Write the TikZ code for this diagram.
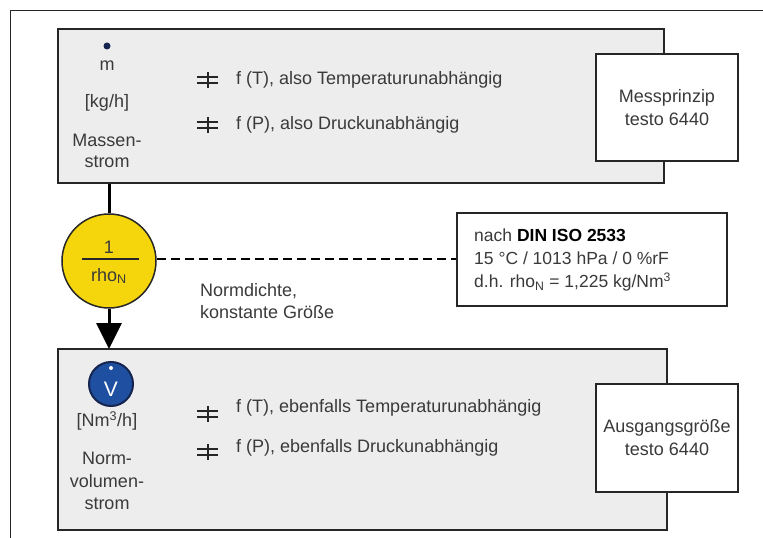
\documentclass[tikz,border=0pt]{standalone}
\usepackage{fontspec}
\setmainfont{Liberation Sans}
\usetikzlibrary{arrows.meta}
\definecolor{txt}{HTML}{3A3A3A}
\definecolor{boxgray}{HTML}{EDEDED}
\definecolor{yel}{HTML}{F5D60C}
\definecolor{vblue}{HTML}{1F4FA0}
\definecolor{navy}{HTML}{15254F}
\begin{document}
\begin{tikzpicture}[x=1bp,y=-1bp,
  lbl/.style={font=\fontsize{18bp}{22bp}\selectfont, text=txt, inner sep=0pt, align=center},
  lbll/.style={lbl, anchor=west, align=left},
  graybox/.style={draw=black!85, line width=2bp, fill=boxgray, inner sep=0pt},
  whitebox/.style={draw=black!85, line width=1.2bp, fill=white, inner sep=0pt, align=center,
    font=\fontsize{18bp}{23bp}\selectfont, text=txt},
  neq/.style={line width=2bp, draw=black!85}
]
\useasboundingbox (0,0) rectangle (763,538);
% outer frame (partial)
\draw[line width=1bp, black!85] (10,538) -- (10,11) -- (763,11);

% top box
\node[graybox, minimum width=606bp, minimum height=154bp] (top) at (361,106) {};
\node[whitebox, minimum width=142bp, minimum height=107bp] (mess) at (667,107.5) {Messprinzip\\testo 6440};

\fill[navy] (107,46) circle (3.5);
\node[lbl] (m) at (107,66) {m};
\node[lbl] (kgh) at (107,103) {[kg/h]};
\node[lbl, font=\fontsize{18bp}{21bp}\selectfont] (mass) at (107,151) {Massen-\\strom};

\foreach \yy in {80,125}{
  \draw[neq] (197,\yy-3) -- (218,\yy-3);
  \draw[neq] (197,\yy+3) -- (218,\yy+3);
  \draw[neq] (207.5,\yy-8) -- (207.5,\yy+8);
}
\node[lbll] (t1) at (236,80) {f (T), also Temperaturunabhängig};
\node[lbll] (t2) at (236,125) {f (P), also Druckunabhängig};

% circle
\node[circle, draw=black!85, line width=1.5bp, fill=yel, minimum size=94bp, inner sep=0pt] (circ) at (109,261) {};
\node[lbl] (one) at (109,247) {1};
\draw[line width=1.2bp, black!85] (82,259) -- (139,259);
\node[lbl] (rho) at (109,276) {rho\textsubscript{N}};

\draw[line width=3bp, black] (top.south -| circ.north) -- (circ.north);
\draw[line width=3bp, black, -{Triangle[width=25bp,length=26bp]}] (circ.south) -- (circ.south |- 0,349);

% DIN box
\node[whitebox, line width=1.8bp, minimum width=270bp, minimum height=93bp] (din) at (592,259.5) {};
\node[lbll, font=\fontsize{17.5bp}{23bp}\selectfont] (dintxt) at (474,260) {nach \textbf{\color{black}DIN ISO 2533}\\15 °C / 1013 hPa / 0 \%rF\\d.h. rho\textsubscript{N} = 1,225 kg/Nm\textsuperscript{3}};
\draw[line width=2.6bp, black, dash pattern=on 9bp off 5bp] (circ.east |- 0,259) -- (din.west |- 0,259);

\node[lbl, align=left, anchor=west] (norm) at (200,301) {Normdichte,\\konstante Größe};

% bottom box
\node[graybox, minimum width=609bp, minimum height=181bp] (bot) at (362.5,439.5) {};
\node[whitebox, minimum width=142bp, minimum height=108bp] (ausg) at (667,438) {Ausgangsgröße\\testo 6440};

\node[circle, draw=navy, line width=2bp, fill=vblue, minimum size=44bp, inner sep=0pt] (vc) at (111,384) {};
\node[font=\fontsize{21bp}{21bp}\selectfont, text=white, inner sep=0pt] (vv) at (111,389) {V};
\fill[white] (111,368) circle (2);
\node[lbl] (nm3) at (107,421) {[Nm\textsuperscript{3}/h]};
\node[lbl, font=\fontsize{18bp}{22.5bp}\selectfont] (nvs) at (107,481) {Norm-\\volumen-\\strom};

\foreach \yy in {414,452}{
  \draw[neq] (197,\yy-3) -- (218,\yy-3);
  \draw[neq] (197,\yy+3) -- (218,\yy+3);
  \draw[neq] (207.5,\yy-8) -- (207.5,\yy+8);
}
\node[lbll] (t3) at (236,408) {f (T), ebenfalls Temperaturunabhängig};
\node[lbll] (t4) at (236,448) {f (P), ebenfalls Druckunabhängig};
\end{tikzpicture}
\end{document}
